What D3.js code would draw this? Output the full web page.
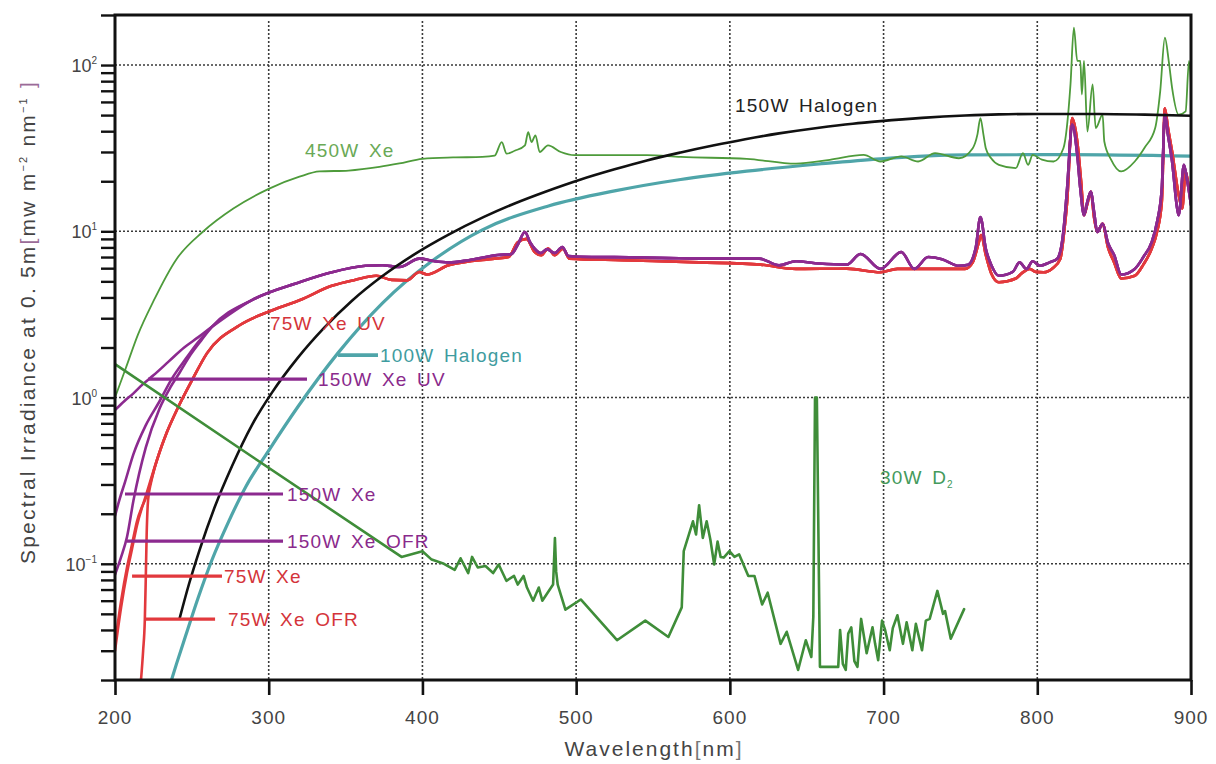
<!DOCTYPE html>
<html>
<head>
<meta charset="utf-8">
<script src="https://cdn.jsdelivr.net/npm/d3@7"></script>
<style>
  html, body { margin: 0; padding: 0; background: #fff; }
  svg { display: block; font-family: Arial, "Liberation Sans", Helvetica, sans-serif; }
</style>
</head>
<body>
<svg id="chart" width="1216" height="764"></svg>
<script>
// ---- spectra: [wavelength nm, irradiance mW m^-2 nm^-1] ----
const xe450 = [[200,1.0],[207,1.5],[215,2.4],[225,3.8],[240,6.8],[257,9.9],[277,13.7],[300,18],[320,21.3],[333,22.9],[352,23.2],[372,24.4],[385,25.6],[400,27.3],[420,27.8],[439,28],[447,28.5],[451.6,34.4],[454.8,29.3],[460,30.5],[466.7,32.9],[468.8,39.5],[471,34.4],[473.5,37.8],[476.3,30],[481.7,32.9],[490,30],[499,28.7],[546,28.7],[568,28],[611,27.3],[643,25.5],[665,26.9],[687,28.8],[698,26.3],[711.5,28.2],[722.5,26.3],[733.5,29.5],[749,27.5],[758,31.6],[761,38],[763,48],[765,38],[766.5,31.6],[770,27.5],[775,25.1],[786,24],[790.7,29.5],[794,25.1],[797,28.8],[803,27],[810.6,26.3],[817,31.6],[821.6,76.5],[823.8,168],[826,106],[828,106],[829,66.6],[830.4,106],[832.6,39.8],[836,76.5],[838,41.8],[842.5,50.3],[843.6,34.7],[848,27],[854.6,22.9],[863.4,26.3],[870,32],[876.7,41.8],[880,70],[883,146],[885.5,106],[887.7,73],[892,50.3],[896.5,52.7],[898.7,106],[900,76.5]];

const halogen150 = [[242,0.0468],[248,0.0748],[255,0.121],[265,0.221],[276,0.385],[289,0.681],[302,1.067],[319,1.738],[336,2.624],[354,3.81],[374,5.38],[395,7.29],[417,9.55],[440,12.2],[460,14.7],[480,17.3],[503,20.5],[525,23.6],[546,26.7],[568,29.8],[589,32.8],[610,35.8],[632,38.8],[658,42],[680,44.4],[698,46],[725,48.1],[753,49.7],[775,50.5],[800,50.8],[840,50.8],[870,50.3],[900,49.5]];

const halogen100 = [[236,0.019],[240,0.025],[246,0.037],[254,0.062],[263,0.105],[274,0.18],[285,0.29],[300,0.48],[319,0.88],[345,1.85],[374,3.7],[406,6.6],[439,10.2],[482,14.2],[525,17.5],[568,20.5],[611,23],[658,25.4],[698,27.3],[753,28.8],[820,28.9],[900,28.3]];

// 150 W Xe family: separate UV ends, shared visible/NIR part
const xe150UVHead  = [[200,0.84],[206,0.95],[212,1.06],[218,1.2],[225,1.36],[235,1.65],[245,2.0],[254,2.3]];
const xe150Head    = [[200,0.194],[203,0.245],[206.5,0.31],[212,0.457],[220,0.68],[229,0.95],[237,1.3],[246,1.71],[254,2.15]];
const xe150OFRHead = [[200,0.086],[204,0.11],[207.8,0.145],[212,0.24],[220,0.5],[229,0.86],[236,1.15],[242,1.41],[249,1.8],[256,2.2]];
const xe150Tail = [[263,2.66],[290,3.9],[320,4.94],[341,5.67],[363,6.2],[374,6.25],[385,6.1],[398,6.85],[408,6.6],[417,6.5],[430,6.7],[449,7.2],[458,7.3],[462,8.3],[466.7,9.9],[470,8.6],[473,7.87],[477,7.4],[481,7.8],[486,7.4],[491,8.05],[495,7.1],[510,7.0],[525,6.99],[560,6.9],[589,6.85],[619,6.85],[632,6.25],[643,6.6],[658,6.4],[676,6.3],[685,7.3],[698,5.94],[711.5,7.5],[720,5.94],[729,7.0],[738,6.8],[749,6.2],[755,6.3],[760,8.0],[763,12.2],[766.5,7.85],[770,6.3],[775,5.4],[784,5.7],[788.5,6.5],[793,5.94],[797,6.6],[801.8,6.2],[808,6.5],[813,6.84],[817,10],[819.4,18.1],[822.7,43.8],[826,28.8],[828,18],[830.4,12.5],[832.5,15],[834.8,17.3],[837,13],[839,9.9],[842.5,11.1],[846,8.5],[850,7.2],[854.6,5.5],[863.4,5.94],[869,7],[874.4,8.6],[878,11.5],[881,18.1],[883,50.3],[885,38],[887.7,26.3],[891,13.7],[892,12.5],[895.4,25.1],[897.6,20],[900,14.4]];

// 75 W Xe family
const xe75UVHead  = [[200,0.033],[204,0.06],[207.8,0.095],[211,0.13],[214.3,0.18],[220.8,0.26]];
const xe75Head    = [[200,0.03],[204,0.055],[207.8,0.088],[211,0.122],[214.3,0.17],[220.8,0.27]];
const xe75OFRHead = [[216.5,0.018],[218.3,0.03],[219.4,0.046],[220,0.08],[220.6,0.15],[221.5,0.24],[223.5,0.31],[225.5,0.37]];
const xe75Tail = [[227.3,0.421],[233.8,0.62],[240.3,0.845],[250.1,1.27],[259.9,1.85],[281.3,2.73],[302.8,3.36],[320.4,3.86],[341,4.7],[356,5.1],[370,5.4],[380,5.1],[390,5.07],[398,5.69],[403,5.5],[417,6.25],[447,6.85],[456,7.0],[462,8.6],[467.7,9.0],[473,7.5],[477.4,7.18],[481.7,7.87],[486,7.18],[491.4,7.87],[495.7,6.85],[530,6.7],[580,6.5],[620,6.3],[643,5.94],[676,5.96],[698,5.67],[709,5.94],[731,5.94],[753,5.94],[758,6.5],[762,8.6],[763.5,9.5],[766.5,7.2],[770,5.6],[775,4.94],[786,5.2],[790,5.6],[795,5.94],[799,5.7],[804,5.67],[810,6.0],[815,6.84],[817.5,10],[819.4,15],[822.7,48],[826,34.7],[828.5,20],[830.4,12.5],[832.5,14.5],[834.8,17.3],[837,12],[839,9.9],[842.5,11.1],[846,8],[850,6.5],[854.6,5.2],[863.4,5.4],[869,6.3],[874.4,7.85],[878,10],[881,15],[883,55],[885,42],[887.7,30.2],[892,16.5],[894.3,13.7],[896.5,22.9],[898.7,18.1],[900,15]];

const d2 = [[200,1.59],[290,0.436],[386.4,0.11],[400,0.119],[406,0.106],[414,0.1],[421,0.092],[424.8,0.108],[429.8,0.088],[432.3,0.11],[436,0.095],[441,0.097],[446,0.088],[449.6,0.099],[454.6,0.079],[459.6,0.0845],[462,0.075],[465.8,0.0845],[468,0.072],[472,0.06],[475.7,0.072],[478,0.06],[485,0.075],[486.2,0.143],[487,0.09],[488,0.075],[493,0.053],[503,0.061],[526.6,0.0347],[545,0.0455],[560,0.0363],[568.7,0.0547],[570,0.119],[576,0.18],[578,0.15],[580,0.225],[582.4,0.143],[584.9,0.18],[587.3,0.14],[589.8,0.099],[592,0.136],[594,0.11],[596,0.109],[599.7,0.119],[603,0.11],[606,0.114],[612,0.0845],[616,0.0845],[621,0.057],[624.6,0.067],[633,0.033],[637,0.039],[644.4,0.023],[649.4,0.0347],[653,0.0275],[654.3,0.048],[655.4,1.0],[656.6,1.0],[658.6,0.024],[670.5,0.024],[671.7,0.04],[673.5,0.025],[675.4,0.023],[677,0.038],[679,0.0415],[681,0.026],[683,0.024],[685.4,0.0466],[689,0.029],[692.8,0.0415],[694.5,0.033],[696.5,0.0263],[699,0.0455],[701,0.04],[704,0.0302],[706,0.041],[709,0.049],[712.6,0.033],[715,0.0445],[718.7,0.0302],[721,0.0435],[725,0.0302],[727.5,0.0455],[730,0.0466],[735,0.0687],[738.7,0.05],[740,0.052],[743.7,0.0354],[752.4,0.0534]];

// ---- axes ----
const xTickValues = [200, 300, 400, 500, 600, 700, 800, 900];
const xGridValues = [300, 400, 500, 600, 700, 800];
const yDecades = [-1, 0, 1, 2];

// ---- annotations (anchored in data units) ----
const callouts = [
  { text: "150W Xe UV",   family: "purple", from: 221.5, to: 324.9, value: 1.29,   labelAt: 332.1 },
  { text: "100W Halogen", family: "teal",   from: 345.1, to: 371.1, value: 1.8,    labelAt: 372.4 },
  { text: "150W Xe",      family: "purple", from: 206.5, to: 309.3, value: 0.263,  labelAt: 311.9 },
  { text: "150W Xe OFR",  family: "purple", from: 207.8, to: 309.3, value: 0.137,  labelAt: 311.9 },
  { text: "75W Xe",       family: "red",    from: 211.1, to: 269.6, value: 0.0844, labelAt: 270.9 },
  { text: "75W Xe OFR",   family: "red",    from: 219.5, to: 265.1, value: 0.0465, labelAt: 273.5 }
];
const freeLabels = [
  { text: "450W Xe",      family: "greenLabel", at: 323.6, value: 30.8 },
  { text: "150W Halogen", family: "black",      at: 603.4, value: 57.5 },
  { text: "75W Xe UV",    family: "red",        at: 300.8, value: 2.8 }
];

const colors = {
  purple: "#8c2a8f", red: "#e2393d", teal: "#4fa5a9", black: "#111111",
  green450: "#4e9b3b", greenD2: "#3f8d39", greenLabel: "#6aa956",
  redLabel: "#d4343a", purpleLabel: "#8a2a8c", tealLabel: "#3f9ca0", d2Label: "#449a5c"
};

const svg = d3.select("#chart");
const m = { l: 115, r: 1191, t: 15, b: 680 };
const x = d3.scaleLinear().domain([200, 900]).range([m.l, m.r]);
const y = d3.scaleLog().domain([0.02, 200]).range([m.b, m.t]);

svg.append("defs").append("clipPath").attr("id", "plot")
  .append("rect").attr("x", m.l).attr("y", m.t)
  .attr("width", m.r - m.l).attr("height", m.b - m.t);

// dotted grid
const grid = svg.append("g").attr("stroke", "#3a3a3a")
  .attr("stroke-width", 1.6).attr("stroke-dasharray", "2,2").attr("fill", "none");
grid.selectAll("line.v").data(xGridValues).join("line").attr("class", "v")
  .attr("x1", d => x(d)).attr("x2", d => x(d)).attr("y1", m.t + 6).attr("y2", m.b);
grid.selectAll("line.h").data(yDecades.map(k => Math.pow(10, k))).join("line").attr("class", "h")
  .attr("x1", m.l).attr("x2", m.r).attr("y1", d => y(d)).attr("y2", d => y(d));

// curves
const smooth = d3.line().x(d => x(d[0])).y(d => y(d[1])).curve(d3.curveMonotoneX);
const jagged = d3.line().x(d => x(d[0])).y(d => y(d[1]));

const series = [
  { name: "100W Halogen", data: halogen100, color: colors.teal, width: 3.2, gen: smooth },
  { name: "450W Xe", data: xe450, color: colors.green450, width: 1.8, gen: smooth },
  { name: "75W Xe OFR", data: xe75OFRHead.concat(xe75Tail), color: colors.red, width: 2.6, gen: smooth },
  { name: "75W Xe", data: xe75Head.concat(xe75Tail), color: colors.red, width: 2.6, gen: smooth },
  { name: "75W Xe UV", data: xe75UVHead.concat(xe75Tail), color: colors.red, width: 2.6, gen: smooth },
  { name: "150W Xe OFR", data: xe150OFRHead.concat(xe150Tail), color: colors.purple, width: 2.6, gen: smooth },
  { name: "150W Xe", data: xe150Head.concat(xe150Tail), color: colors.purple, width: 2.6, gen: smooth },
  { name: "150W Xe UV", data: xe150UVHead.concat(xe150Tail), color: colors.purple, width: 2.6, gen: smooth },
  { name: "150W Halogen", data: halogen150, color: colors.black, width: 2.6, gen: smooth },
  { name: "30W D2", data: d2, color: colors.greenD2, width: 2.6, gen: jagged }
];

const curves = svg.append("g").attr("clip-path", "url(#plot)").attr("fill", "none")
  .attr("stroke-linejoin", "round").attr("stroke-linecap", "round");
series.forEach(s => {
  curves.append("path").attr("d", s.gen(s.data))
    .attr("stroke", s.color).attr("stroke-width", s.width);
});

// callout lines with labels
const familyLine = { purple: colors.purple, red: colors.red, teal: colors.teal };
const familyText = { purple: colors.purpleLabel, red: colors.redLabel, teal: colors.tealLabel,
                     black: "#222", greenLabel: colors.greenLabel };
const ann = svg.append("g");
callouts.forEach(c => {
  ann.append("line").attr("x1", x(c.from)).attr("x2", x(c.to))
    .attr("y1", y(c.value)).attr("y2", y(c.value))
    .attr("stroke", familyLine[c.family]).attr("stroke-width", c.family === "teal" ? 3.6 : 3.2);
  ann.append("text").attr("x", x(c.labelAt)).attr("y", y(c.value))
    .attr("dy", "0.36em").attr("fill", familyText[c.family])
    .style("font-size", "19px").style("letter-spacing", "1.2px").style("word-spacing", "3px")
    .text(c.text);
});
freeLabels.forEach(c => {
  ann.append("text").attr("x", x(c.at)).attr("y", y(c.value))
    .attr("dy", "0.36em").attr("fill", familyText[c.family])
    .style("font-size", "19px").style("letter-spacing", "1.2px").style("word-spacing", "3px")
    .text(c.text);
});
// deuterium lamp label with subscript
const d2Label = ann.append("text").attr("x", x(697.7)).attr("y", y(0.333)).attr("dy", "0.36em")
  .attr("fill", colors.d2Label).style("font-size", "19px").style("letter-spacing", "1.2px")
  .style("word-spacing", "3px");
d2Label.append("tspan").text("30W D");
d2Label.append("tspan").attr("dy", 4).style("font-size", "10px").text("2");

// y axis ticks (log minor + major)
const yTickValues = [];
for (let e = -2; e <= 2; e++) for (let k = 1; k <= 9; k++) {
  const v = k * Math.pow(10, e);
  if (v >= 0.0199 && v <= 200.1) yTickValues.push(v);
}
const yAxis = svg.append("g").attr("transform", `translate(${m.l},0)`)
  .call(d3.axisLeft(y).tickValues(yTickValues).tickSize(14).tickFormat(""));
yAxis.select(".domain").remove();
yAxis.selectAll(".tick line").attr("stroke", "#111").attr("stroke-width", 2.4);

const yLab = svg.append("g").attr("fill", "#444").style("font-size", "18px");
yDecades.forEach(k => {
  const t = yLab.append("text").attr("x", 97).attr("y", y(Math.pow(10, k)) + 7)
    .attr("text-anchor", "end");
  t.append("tspan").text("10");
  t.append("tspan").attr("dy", -8).style("font-size", "10px")
    .text(k < 0 ? "\u2212" + Math.abs(k) : String(k));
});

// x axis ticks
const xAxis = svg.append("g").attr("transform", `translate(0,${m.b})`)
  .call(d3.axisBottom(x).tickValues(xTickValues).tickSize(15).tickFormat(""));
xAxis.select(".domain").remove();
xAxis.selectAll(".tick line").attr("stroke", "#111").attr("stroke-width", 2.6);
svg.append("g").attr("fill", "#444").style("font-size", "19px").style("letter-spacing", "1px")
  .selectAll("text").data(xTickValues).join("text")
  .attr("x", d => x(d)).attr("y", 724).attr("text-anchor", "middle").text(d => d);

// frame
svg.append("rect").attr("x", m.l).attr("y", m.t).attr("width", m.r - m.l).attr("height", m.b - m.t)
  .attr("fill", "none").attr("stroke", "#111").attr("stroke-width", 3);

// axis titles
const xt = svg.append("text").attr("x", 654).attr("y", 756).attr("text-anchor", "middle")
  .attr("fill", "#444").style("font-size", "21px").style("letter-spacing", "2px");
xt.append("tspan").text("Wavelength");
xt.append("tspan").attr("fill", "#777").text("[");
xt.append("tspan").text("nm");
xt.append("tspan").attr("fill", "#777").text("]");

const yt = svg.append("text").attr("transform", "translate(35,322) rotate(-90)")
  .attr("text-anchor", "middle").attr("fill", "#444")
  .style("font-size", "21px").style("letter-spacing", "2.2px");
yt.append("tspan").text("Spectral Irradiance at 0. 5m");
yt.append("tspan").attr("fill", "#9b6b98").text("[");
yt.append("tspan").text("mw m");
yt.append("tspan").attr("dy", -8).style("font-size", "11px").text("\u22122");
yt.append("tspan").attr("dy", 8).text(" nm");
yt.append("tspan").attr("dy", -8).style("font-size", "11px").text("\u22121");
yt.append("tspan").attr("dy", 8).attr("fill", "#9b6b98").text("  ]");
</script>
</body>
</html>
